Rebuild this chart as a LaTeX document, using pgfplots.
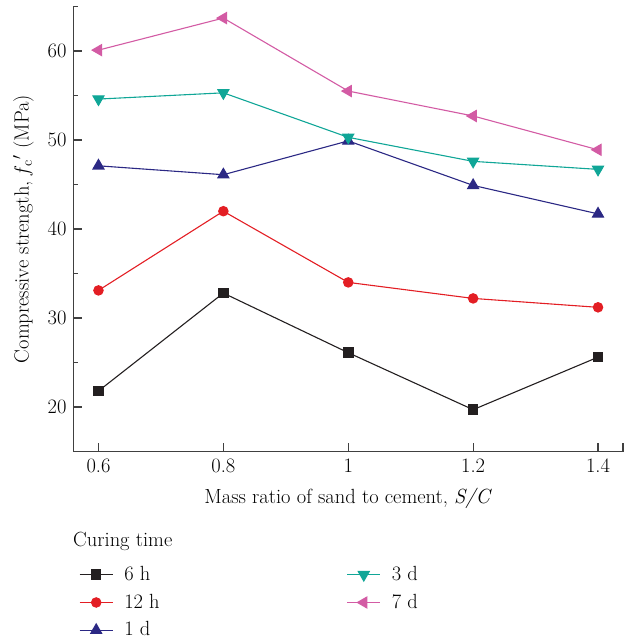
\documentclass[border=0pt]{standalone}
\usepackage{fontspec}
\usepackage{pgfplots}
\pgfplotsset{compat=1.18}
\definecolor{c6h}{RGB}{35,31,32}
\definecolor{c12h}{RGB}{227,30,36}
\definecolor{c1d}{RGB}{43,40,132}
\definecolor{c3d}{RGB}{16,166,151}
\definecolor{c7d}{RGB}{211,91,164}
\begin{document}
\fontsize{20.5bp}{24bp}\selectfont
\begin{tikzpicture}
\useasboundingbox (-73.5bp,-187.5bp) rectangle (550.5bp,451.5bp);
\begin{axis}[
  at={(0,0)}, anchor=south west,
  scale only axis, width=549.5bp, height=445bp,
  xmin=0.56, xmax=1.44, ymin=15, ymax=65,
  axis line style={draw=none},
  xtick pos=bottom, ytick pos=left,
  xtick={0.6,0.8,1,1.2,1.4},
  ytick={20,30,40,50,60},
  minor ytick={15,25,35,45,55,65},
  extra x ticks={1.44}, extra x tick labels={},
  tick align=inside,
  major tick length=9bp, minor tick length=5bp,
  every tick/.style={line width=1.1bp, draw=black!75},
  /pgf/number format/assume math mode=true,
  xlabel={Mass ratio of sand to cement, \textit{S/C}},
  xlabel style={yshift=-2bp},
  ylabel={Compressive strength, \textit{f}\textsubscript{c}$'$ (MPa)},
  every axis plot/.append style={line width=1.1bp},
  legend style={draw=none, fill=none, at={(axis description cs:0.0045,-0.248)}, anchor=north west,
    /tikz/every odd column/.append style={column sep=9bp},
    /tikz/every even column/.append style={column sep=185bp},
    /tikz/row sep=6.5bp},
  legend columns=3, transpose legend, legend cell align=left,
  legend image code/.code={\draw[mark repeat=2,mark phase=2] plot coordinates {(0bp,0bp) (16.5bp,0bp) (33bp,0bp)};},
  after end axis/.code={\draw[line width=1.1bp, black!75] (rel axis cs:0,1) -- (rel axis cs:0,0) -- (rel axis cs:1,0);},
]
\addplot[color=c6h, mark=square*, mark size=4.7bp] coordinates {(0.6,21.8) (0.8,32.8) (1,26.1) (1.2,19.7) (1.4,25.6)};
\addlegendentry{6 h}
\addplot[color=c12h, mark=*, mark size=4.7bp] coordinates {(0.6,33.1) (0.8,42.0) (1,34.0) (1.2,32.2) (1.4,31.2)};
\addlegendentry{12 h}
\addplot[color=c1d, mark=triangle*, mark size=6.3bp] coordinates {(0.6,47.1) (0.8,46.1) (1,49.9) (1.2,44.9) (1.4,41.7)};
\addlegendentry{1 d}
\addplot[color=c3d, mark=triangle*, mark size=6.3bp, mark options={rotate=180}] coordinates {(0.6,54.6) (0.8,55.3) (1,50.3) (1.2,47.6) (1.4,46.7)};
\addlegendentry{3 d}
\addplot[color=c7d, mark=triangle*, mark size=6.3bp, mark options={rotate=90}] coordinates {(0.6,60.1) (0.8,63.7) (1,55.5) (1.2,52.7) (1.4,48.9)};
\addlegendentry{7 d}
\end{axis}
\node[anchor=base west, inner sep=0pt] at (-0.5bp,-94.5bp) {Curing time};
\end{tikzpicture}
\end{document}
